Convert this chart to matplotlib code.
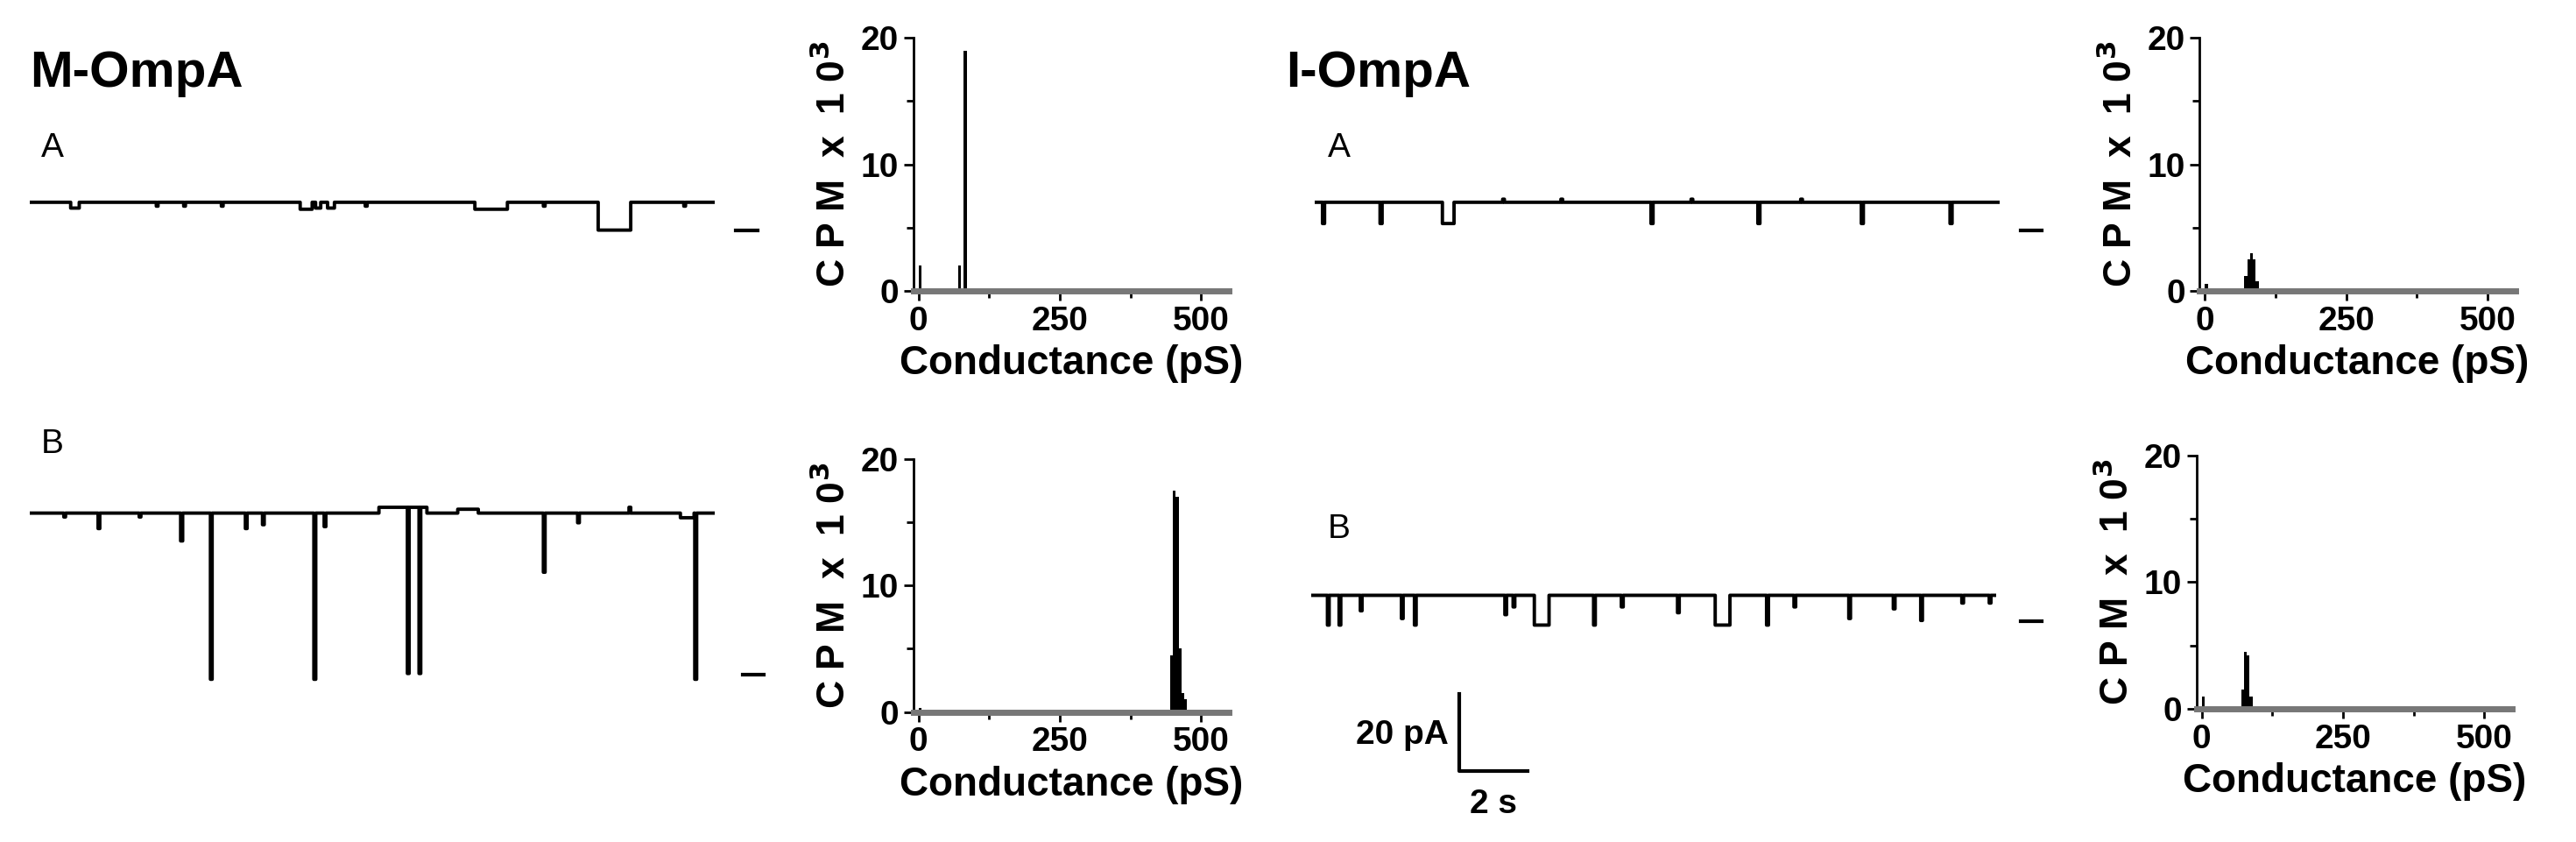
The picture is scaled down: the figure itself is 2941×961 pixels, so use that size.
import matplotlib
matplotlib.use("Agg")
import matplotlib.pyplot as plt
import numpy as np
from matplotlib.ticker import MultipleLocator

plt.rcParams['font.family'] = ['Liberation Sans', 'DejaVu Sans']

# ---------------- data ----------------
# trace events: (start time s, duration s, amplitude pA)
trace_MA = [(1.2, 0.25, -1.5), (3.7, 0.05, -1.0), (4.5, 0.05, -1.0), (5.6, 0.05, -1.0),
            (7.9, 0.35, -1.8), (8.35, 0.15, -1.5), (8.7, 0.2, -1.5), (9.8, 0.05, -1.0),
            (13.0, 0.95, -1.8), (15.0, 0.05, -1.0), (16.6, 0.95, -7.2), (19.1, 0.05, -1.0)]
trace_MB = [(1.0, 0.05, -1.0), (2.0, 0.05, -4.0), (3.2, 0.05, -1.0), (4.41, 0.06, -7.2),
            (5.28, 0.05, -43.0), (6.3, 0.05, -4.0), (6.8, 0.05, -3.0), (8.30, 0.05, -43.0),
            (8.6, 0.05, -3.5), (10.2, 1.4, 1.5), (11.03, 0.05, -43.0), (11.37, 0.05, -43.0),
            (12.5, 0.6, 1.0), (15.0, 0.05, -15.3), (16.0, 0.05, -2.5), (17.5, 0.05, 1.5),
            (19.0, 0.4, -1.2), (19.42, 0.05, -43.0)]
trace_IA = [(0.24, 0.06, -5.5), (1.92, 0.06, -5.5), (3.74, 0.34, -5.5), (9.83, 0.06, -5.5),
            (12.95, 0.06, -5.5), (15.97, 0.06, -5.5), (18.56, 0.06, -5.5),
            (5.5, 0.05, 0.8), (7.2, 0.05, 0.8), (11.0, 0.05, 0.8), (14.2, 0.05, 0.8)]
trace_IB = [(0.48, 0.05, -7.7), (0.82, 0.05, -7.7), (1.44, 0.05, -4.0), (2.64, 0.05, -6.0),
            (3.02, 0.05, -7.7), (5.66, 0.05, -5.0), (5.9, 0.05, -3.0), (6.52, 0.43, -7.7),
            (8.25, 0.05, -7.7), (9.06, 0.05, -3.0), (10.7, 0.05, -4.5), (11.8, 0.43, -7.7),
            (13.3, 0.05, -7.7), (14.1, 0.05, -3.0), (15.7, 0.05, -6.0), (17.0, 0.05, -3.5),
            (17.8, 0.05, -6.5), (19.0, 0.05, -2.0), (19.8, 0.05, -2.0)]

# histograms: conductance bin (pS), CPM x 10^3
hist_MA_x = [0, 70, 80]
hist_MA_y = [2.0, 2.0, 19.0]
hist_MB_x = [0, 445, 450, 455, 460, 465, 470]
hist_MB_y = [0.3, 4.5, 17.5, 17.0, 5.0, 1.5, 1.0]
hist_IA_x = [0, 70, 75, 80, 85, 90]
hist_IA_y = [0.6, 1.2, 2.5, 3.0, 2.5, 0.8]
hist_IB_x = [0, 70, 75, 80, 85]
hist_IB_y = [1.0, 1.5, 4.5, 4.2, 1.0]

# ---------------- layout helpers ----------------
W, H = 1568.0, 512.0
fig = plt.figure(figsize=(29.41, 9.61), dpi=100)

def px_axes(x0, y0, x1, y1):
    return fig.add_axes([x0 / W, 1 - y1 / H, (x1 - x0) / W, (y1 - y0) / H])

PX_PER_PA = 47.0 / 20.0
def draw_trace(events, x0, baseline):
    ax = px_axes(x0, baseline - 20, x0 + 417, baseline + 110)
    t = np.linspace(0, 20, 4001)
    y = np.zeros_like(t)
    for s, d, a in events:
        y[(t >= s) & (t < s + d)] += a
    ax.plot(t, y, color='black', lw=2.8, drawstyle='steps-post')
    ax.set_xlim(0, 20)
    ax.set_ylim(-110 / PX_PER_PA, 20 / PX_PER_PA)
    ax.axis('off')

def draw_hist(xs, ys, x0, y0, x1, y1):
    ax = px_axes(x0, y0, x1, y1)
    ax.bar(xs, ys, width=5, color='black', align='edge')
    ax.set_xlim(-9, 549)
    ax.set_ylim(0, 20)
    for s in ['top', 'right']:
        ax.spines[s].set_visible(False)
    ax.spines['left'].set_linewidth(2)
    ax.spines['bottom'].set_linewidth(5)
    ax.spines['bottom'].set_color('#777777')
    ax.set_xticks([0, 250, 500])
    ax.xaxis.set_minor_locator(MultipleLocator(125))
    ax.set_yticks([0, 10, 20])
    ax.yaxis.set_minor_locator(MultipleLocator(5))
    ax.tick_params(which='both', direction='out', width=2, length=8, pad=4)
    ax.tick_params(which='minor', length=6)
    for lab in ax.get_xticklabels() + ax.get_yticklabels():
        lab.set_fontsize(28)
        lab.set_fontweight('bold')
    ax.set_xlabel('Conductance (pS)', fontsize=33, fontweight='bold', labelpad=6)
    ax.set_ylabel('C P M  x  1 0$^\\mathbf{3}$', fontsize=32, fontweight='bold', labelpad=6)
    return ax

# ---------------- draw ----------------
draw_trace(trace_MA, 18, 123)
draw_trace(trace_MB, 18, 312)
draw_trace(trace_IA, 800, 123)
draw_trace(trace_IB, 798, 362)

draw_hist(hist_MA_x, hist_MA_y, 556, 23, 748, 177)
draw_hist(hist_MB_x, hist_MB_y, 556, 279, 748, 433)
draw_hist(hist_IA_x, hist_IA_y, 1339, 23, 1531, 177)
draw_hist(hist_IB_x, hist_IB_y, 1337, 277, 1529, 431)

over = fig.add_axes([0, 0, 1, 1], facecolor='none')
over.set_xlim(0, W); over.set_ylim(H, 0); over.axis('off')
for x, y in [(448, 140), (452, 410), (1230, 140), (1230, 378)]:
    over.plot([x, x + 13], [y, y], color='black', lw=3)

over.text(18, 45, 'M-OmpA', fontsize=42, fontweight='bold', va='center', ha='left')
over.text(783, 45, 'I-OmpA', fontsize=42, fontweight='bold', va='center', ha='left')
for x, y, s in [(25, 90, 'A'), (25, 270, 'B'), (808, 90, 'A'), (808, 322, 'B')]:
    over.text(x, y, s, fontsize=28, va='center', ha='left')

# scale bar 20 pA / 2 s
over.plot([888, 888, 930], [422, 469, 469], color='black', lw=3)
over.text(882, 447, '20 pA', fontsize=28, fontweight='bold', va='center', ha='right')
over.text(909, 489, '2 s', fontsize=28, fontweight='bold', va='center', ha='center')

fig.savefig('out.png', dpi=100)
